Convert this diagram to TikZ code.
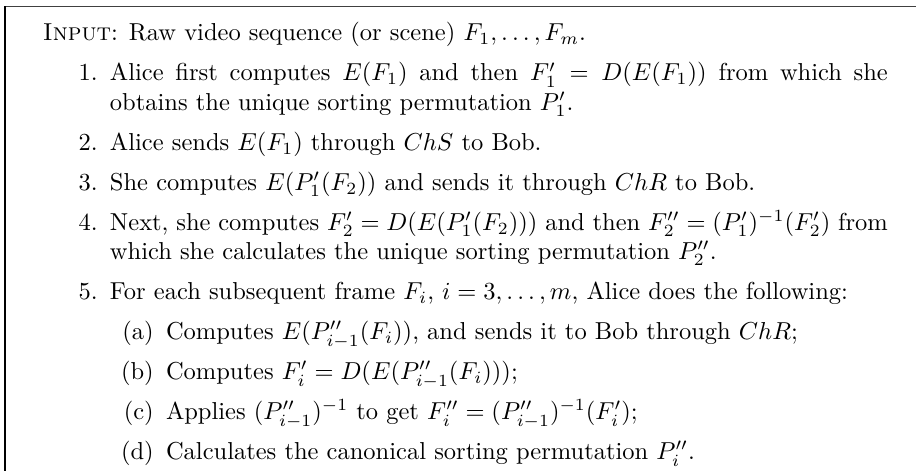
\documentclass[tikz,border=0pt]{standalone}
\newlength\LW
\setlength\LW{317.5pt}
\begin{document}
\begin{tikzpicture}[x=0.40816pt,y=-0.40816pt,
  txt/.style={anchor=base west,inner sep=0pt,outer sep=0pt},
  lbl/.style={anchor=base east,inner sep=0pt,outer sep=0pt},
  frameline/.style={line width=0.55pt}]
\useasboundingbox (0,0) rectangle (916,471);
\clip (0,0) rectangle (916,471);
\coordinate (fb) at (5,600);
\coordinate (fc) at (5,6.5);
\coordinate (fr) at (1000,6.5);
\draw[frameline,black!75] (fc) -- (fr);
\draw[frameline] (fb) -- (fc);
% input
\node[txt] (in) at (43,41) {\textsc{Input}: Raw video sequence (or scene) $F_1,\ldots,F_m$.};
% item 1
\node[lbl] (l1) at (97.75,81) {1.};
\node[txt] (t1a) at (110,81) {\makebox[\LW][s]{Alice first computes $E(F_1)$ and then $F_1' = D(E(F_1))$ from which she}};
\node[txt] (t1b) at (110,110.4) {obtains the unique sorting permutation $P_1'$.};
% item 2
\node[lbl] (l2) at (97.75,150.4) {2.};
\node[txt] (t2) at (110,150.4) {Alice sends $E(F_1)$ through $ChS$ to Bob.};
% item 3
\node[lbl] (l3) at (97.75,190.4) {3.};
\node[txt] (t3) at (110,190.4) {She computes $E(P_1'(F_2))$ and sends it through $ChR$ to Bob.};
% item 4
\node[lbl] (l4) at (97.75,230.4) {4.};
\node[txt] (t4a) at (110,230.4) {\makebox[\LW][s]{Next, she computes $F_2' = D(E(P_1'(F_2)))$ and then $F_2'' = (P_1')^{-1}(F_2')$ from}};
\node[txt] (t4b) at (110,259.8) {which she calculates the unique sorting permutation $P_2''$.};
% item 5
\node[lbl] (l5) at (97.75,299.8) {5.};
\node[txt] (t5) at (110,299.8) {For each subsequent frame $F_i$, $i=3,\ldots,m$, Alice does the following:};
% sub items
\node[lbl] (la) at (153.75,339.8) {(a)};
\node[txt] (ta) at (166,339.8) {Computes $E(P''_{i-1}(F_i))$, and sends it to Bob through $ChR$;};
\node[lbl] (lb) at (153.75,379.8) {(b)};
\node[txt] (tb) at (166,379.8) {Computes $F_i' = D(E(P''_{i-1}(F_i)))$;};
\node[lbl] (lc) at (153.75,419.8) {(c)};
\node[txt] (tc) at (166,419.8) {Applies $(P''_{i-1})^{-1}$ to get $F_i'' = (P''_{i-1})^{-1}(F_i')$;};
\node[lbl] (ld) at (153.75,459.8) {(d)};
\node[txt] (td) at (166,459.8) {Calculates the canonical sorting permutation $P_i''$.};
\end{tikzpicture}
\end{document}
